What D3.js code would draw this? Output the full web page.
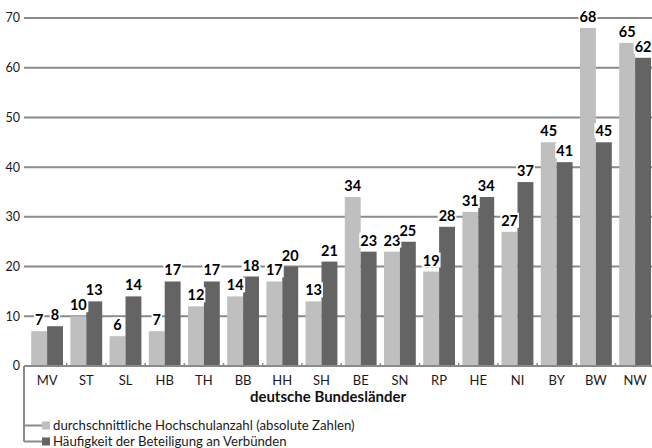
<!DOCTYPE html>
<html>
<head>
<meta charset="utf-8">
<script src="https://cdn.jsdelivr.net/npm/d3@7/dist/d3.min.js"></script>
<style>
  html, body { margin: 0; padding: 0; background: #fff; }
  svg { display: block; font-family: Lato, "Open Sans", sans-serif; }
</style>
</head>
<body>
<svg id="chart" width="652" height="448"></svg>
<script>
// German federal states
const categories = ["MV", "ST", "SL", "HB", "TH", "BB", "HH", "SH", "BE", "SN", "RP", "HE", "NI", "BY", "BW", "NW"];
// average number of universities (absolute numbers)
const avgUniversities = [7, 10, 6, 7, 12, 14, 17, 13, 34, 23, 19, 31, 27, 45, 68, 65];
// frequency of participation in networks
const participation = [8, 13, 14, 17, 17, 18, 20, 21, 23, 25, 28, 34, 37, 41, 45, 62];
const seriesNames = ["durchschnittliche Hochschulanzahl (absolute Zahlen)", "Häufigkeit der Beteiligung an Verbünden"];
const seriesColors = ["#bfbfbf", "#646464"];
const yTicks = [0, 10, 20, 30, 40, 50, 60, 70];
const axisTitle = "deutsche Bundesländer";

const svg = d3.select("#chart");
const gridColor = "#8a8a8a";
const textColor = "#1a1a1a";

const x = d3.scaleBand().domain(categories).range([27.5, 654.7]).paddingInner(0).paddingOuter(0);
const xs = d3.scaleBand().domain([0, 1]).range([3.7, x.bandwidth() - 3.7]);
const y = d3.scaleLinear().domain([0, 70]).range([366, 18]);

// horizontal gridlines
svg.append("g").selectAll("line").data(yTicks.filter(d => d > 0)).join("line")
  .attr("x1", 24).attr("x2", 652)
  .attr("y1", d => y(d)).attr("y2", d => y(d))
  .attr("stroke", gridColor).attr("stroke-width", 2);

// y tick labels
svg.append("g").selectAll("text").data(yTicks).join("text")
  .attr("x", 20).attr("y", d => y(d)).attr("dy", "0.35em")
  .attr("text-anchor", "end").attr("font-size", 12.5).attr("fill", textColor)
  .text(d => d);

// bars
const rows = categories.map((c, i) => ({ c, v: [avgUniversities[i], participation[i]] }));
const groups = svg.append("g").selectAll("g").data(rows).join("g")
  .attr("transform", d => `translate(${x(d.c)},0)`);
groups.selectAll("rect").data(d => d.v.map((v, s) => ({ v, s }))).join("rect")
  .attr("x", d => xs(d.s)).attr("width", xs.bandwidth())
  .attr("y", d => y(d.v)).attr("height", d => y(0) - y(d.v))
  .attr("fill", d => seriesColors[d.s]);

// x axis line and tick marks between categories
svg.append("line").attr("x1", 24).attr("x2", 652).attr("y1", y(0)).attr("y2", y(0))
  .attr("stroke", gridColor).attr("stroke-width", 2);
svg.append("g").selectAll("line").data(categories.slice(1)).join("line")
  .attr("x1", d => x(d)).attr("x2", d => x(d))
  .attr("y1", y(0) - 3).attr("y2", y(0))
  .attr("stroke", gridColor).attr("stroke-width", 1.5);

// category labels
svg.append("g").selectAll("text").data(categories).join("text")
  .attr("x", d => x(d) + x.bandwidth() / 2).attr("y", 380).attr("dy", "0.35em")
  .attr("text-anchor", "middle").attr("font-size", 13).attr("fill", textColor)
  .text(d => d);

// axis title
svg.append("text").attr("x", 328).attr("y", 397).attr("dy", "0.35em")
  .attr("text-anchor", "middle").attr("font-size", 15).attr("font-weight", "bold")
  .attr("fill", "#111").text(axisTitle);

// value labels with white backgrounds
const labelLayer = svg.append("g");
rows.forEach(r => {
  r.v.forEach((v, s) => {
    const g = labelLayer.append("g");
    const t = g.append("text")
      .attr("x", x(r.c) + xs(s) + xs.bandwidth() / 2)
      .attr("y", y(v) - 6)
      .attr("text-anchor", "middle").attr("font-size", 14.5).attr("font-weight", "bold")
      .attr("fill", "#000").text(v);
    const b = t.node().getBBox();
    g.insert("rect", "text").attr("x", b.x - 1).attr("y", b.y + 1)
      .attr("width", b.width + 2).attr("height", b.height - 2).attr("fill", "#fff");
  });
});

// legend with connector lines
const leg = svg.append("g");
const legY = [425.5, 441.5];
leg.append("line").attr("x1", 24).attr("x2", 24).attr("y1", y(0)).attr("y2", legY[1])
  .attr("stroke", gridColor).attr("stroke-width", 2);
legY.forEach((ly, i) => {
  leg.append("line").attr("x1", 24).attr("x2", 42).attr("y1", ly).attr("y2", ly)
    .attr("stroke", gridColor).attr("stroke-width", 2);
  leg.append("rect").attr("x", 42).attr("y", ly - 4).attr("width", 8).attr("height", 8)
    .attr("fill", seriesColors[i]);
  leg.append("text").attr("x", 53).attr("y", ly).attr("dy", "0.35em")
    .attr("font-size", 13.2).attr("fill", textColor).text(seriesNames[i]);
});
</script>
</body>
</html>
